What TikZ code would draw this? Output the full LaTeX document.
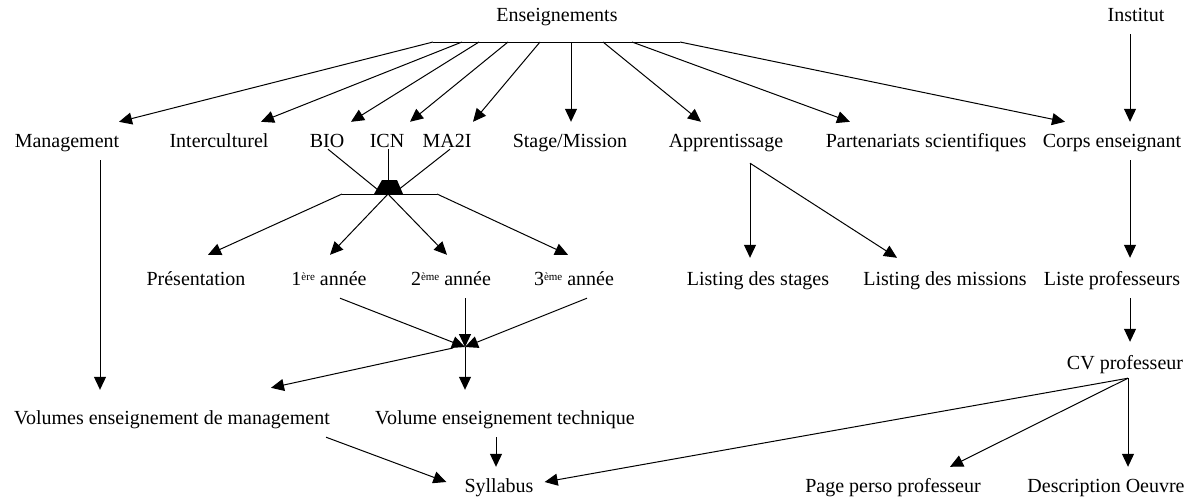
\documentclass[tikz,border=0pt]{standalone}
\usepackage{fontspec}
\setmainfont{Liberation Serif}
\usetikzlibrary{positioning,arrows.meta,calc}
\newcommand{\rang}[1]{\raisebox{5.5pt}{\fontsize{11}{11}\selectfont #1}}
\tikzset{
  lbl/.style={font=\fontsize{20}{24}\selectfont,inner xsep=2pt,inner ysep=11.5pt,text height=14pt,text depth=1pt},
  arr/.style={-{Triangle[length=13pt,width=12pt]},line width=1pt},
  bar/.style={line width=1pt}
}
\begin{document}
\begin{tikzpicture}[x=1pt,y=-1pt]
\useasboundingbox (0,0) rectangle (1190,498);
% top
\node[lbl] (ens) at (557,15) {Enseignements};
\node[lbl] (inst) at (1136,15) {Institut};
% first level
\node[lbl] (mgmt) at (67,141) {Management};
\node[lbl] (inter) at (219,141) {Interculturel};
\node[lbl] (bio) at (327,141) {BIO};
\node[lbl] (icn) at (387,141) {ICN};
\node[lbl] (ma2i) at (447,141) {MA2I};
\node[lbl] (stage) at (570,141) {Stage/Mission};
\node[lbl] (appr) at (726,141) {Apprentissage};
\node[lbl] (part) at (926,141) {Partenariats scientifiques};
\node[lbl] (corps) at (1112,141) {Corps enseignant};
% second level
\node[lbl] (pres) at (196,279) {Présentation};
\node[lbl] (an1) at (329,279) {1\rang{ère} année};
\node[lbl] (an2) at (451,279) {2\rang{ème} année};
\node[lbl] (an3) at (574,279) {3\rang{ème} année};
\node[lbl] (lstages) at (758,279) {Listing des stages};
\node[lbl] (lmissions) at (945,279) {Listing des missions};
\node[lbl] (lprof) at (1112,279) {Liste professeurs};
\node[lbl] (cv) at (1125,363) {CV professeur};
% bottom
\node[lbl] (volmgmt) at (172,418) {Volumes enseignement de management};
\node[lbl] (voltech) at (505,418) {Volume enseignement technique};
\node[lbl] (syll) at (499,486) {Syllabus};
\node[lbl] (page) at (893,486) {Page perso professeur};
\node[lbl] (descr) at (1106,486) {Description Oeuvre};

% fork under Enseignements
\coordinate (tl) at (433,42);
\coordinate (tr) at (680,42);
\draw[bar] (tl) -- (tr);
\draw[arr] (tl) -- ([xshift=52pt]mgmt.north);
\draw[arr] ([xshift=29pt]tl) -- ([xshift=42pt]inter.north);
\draw[arr] ([xshift=46pt]tl) -- ([xshift=24pt]bio.north);
\draw[arr] ([xshift=75pt]tl) -- ([xshift=23pt]icn.north);
\draw[arr] ([xshift=107pt]tl) -- ([xshift=26pt]ma2i.north);
\draw[arr] ([xshift=138pt]tl) -- ([xshift=1pt]stage.north);
\draw[arr] ([xshift=170pt]tl) -- ([xshift=-25pt]appr.north);
\draw[arr] ([xshift=199pt]tl) -- ([xshift=-76pt]part.north);
\draw[arr] (tr) -- ([xshift=-47pt]corps.north);
\draw[arr] ([xshift=-6pt]inst.south) -- ([xshift=18pt]corps.north);

% BIO / ICN / MA2I
\coordinate (j1) at (388,194);
\coordinate (j1l) at (342,194);
\coordinate (j1r) at (437,194);
\fill ([xshift=-14pt]j1) -- ([xshift=-6pt,yshift=14pt]j1) -- ([xshift=9pt,yshift=14pt]j1) -- ([xshift=15pt]j1) -- cycle;
\draw[bar] ([xshift=1pt,yshift=11pt]bio.south) -- ([xshift=-5pt]j1);
\draw[bar] ([xshift=1pt,yshift=11pt]icn.south) -- (j1);
\draw[bar] ([xshift=3pt,yshift=11pt]ma2i.south) -- ([xshift=5pt]j1);
\draw[bar] (j1l) -- (j1r);
\draw[arr] (j1l) -- ([xshift=12pt,yshift=5pt]pres.north);
\draw[arr] (j1) -- ([xshift=1pt,yshift=5pt]an1.north);
\draw[arr] (j1) -- ([xshift=-4pt,yshift=5pt]an2.north);
\draw[arr] (j1r) -- ([xshift=-6pt,yshift=5pt]an3.north);

% Apprentissage
\coordinate (apx) at ([xshift=24pt,yshift=-3pt]appr.south);
\draw[arr] (apx) -- ([xshift=-8pt,yshift=2pt]lstages.north);
\draw[arr] (apx) -- ([xshift=-48pt,yshift=2pt]lmissions.north);

% professeurs
\draw[arr] ([xshift=18pt]corps.south) -- ([xshift=18pt,yshift=2pt]lprof.north);
\draw[arr] ([xshift=18pt]lprof.south) -- ([xshift=5pt,yshift=2pt]cv.north);
\coordinate (cvp) at ([xshift=3pt,yshift=4pt]cv.south);
\draw[arr] (cvp) -- ([xshift=9pt,yshift=4pt]syll.east);
\draw[arr] (cvp) -- ([xshift=57pt]page.north);
\draw[arr] (cvp) -- ([xshift=22pt]descr.north);

% annees -> volumes
\coordinate (j2) at (465,347);
\draw[arr] ([xshift=11pt]an1.south) -- (j2);
\draw[arr] ([xshift=14pt]an2.south) -- (j2);
\draw[arr] ([xshift=13pt]an3.south) -- (j2);
\draw[arr] ([xshift=-12pt,yshift=-1pt]j2) -- ([xshift=99pt,yshift=11pt]volmgmt.north);
\draw[arr] (j2) -- ([xshift=-40pt,yshift=9pt]voltech.north);
\draw[arr] ([xshift=33pt]mgmt.south) -- ([xshift=-72pt,yshift=9pt]volmgmt.north);

% -> Syllabus
\draw[arr] ([xshift=-6pt]volmgmt.south east) -- ([xshift=-16pt,yshift=4pt]syll.west);
\draw[arr] ([xshift=-9pt]voltech.south) -- ([xshift=-3pt]syll.north);
\end{tikzpicture}
\end{document}
